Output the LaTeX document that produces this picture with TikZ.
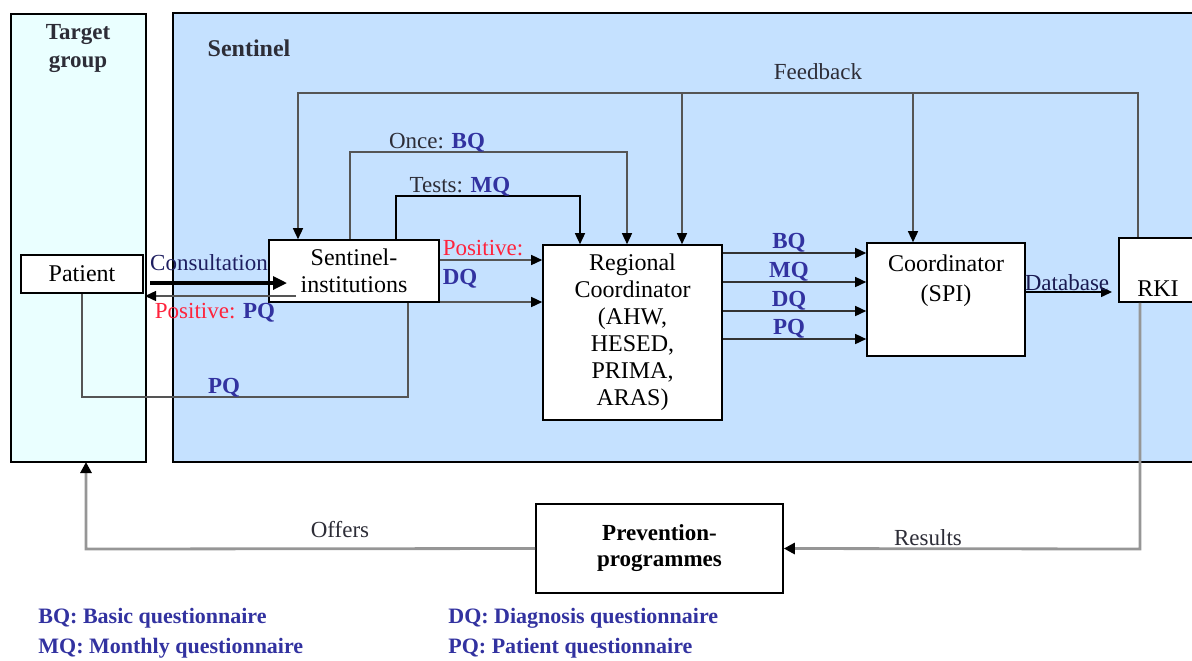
\documentclass[tikz,border=0pt]{standalone}
\usepackage{fontspec}
\setmainfont{Liberation Serif}
\usepackage{xcolor}
\usetikzlibrary{arrows.meta,positioning,calc}
\definecolor{qblue}{RGB}{50,50,160}
\definecolor{posred}{RGB}{255,35,60}
\definecolor{sentfill}{RGB}{197,225,255}
\definecolor{targfill}{RGB}{234,255,255}
\definecolor{linegray}{RGB}{85,85,85}
\definecolor{lightline}{RGB}{150,150,150}
\definecolor{labeltext}{RGB}{45,45,55}

\begin{document}
\begin{tikzpicture}[x=0.5pt,y=-0.5pt,
		box/.style={draw,fill=white,line width=0.8pt,inner sep=0pt,align=center,font=\fontsize{12}{13.5}\selectfont},
		lbl/.style={font=\fontsize{11.5}{13}\selectfont,text=labeltext,inner sep=0pt},
		qlbl/.style={font=\fontsize{11.5}{13}\selectfont\bfseries,text=qblue,inner sep=0pt},
		flow/.style={line width=0.7pt,draw=linegray,-{Triangle[length=5.5pt,width=5pt,black]}},
		legend/.style={anchor=west,font=\fontsize{11}{13}\selectfont\bfseries,text=qblue,inner sep=0pt}]
			\useasboundingbox (0,0) rectangle (1192,660);
			
			%areas
			\filldraw[fill=targfill,draw=black,line width=0.8pt] (11,14) rectangle (146,462);
			\filldraw[fill=sentfill,draw=black,line width=0.8pt] (173,13) rectangle (1210,462);
			\node[align=center,font=\fontsize{11.5}{14}\selectfont\bfseries,text=labeltext] (targettitle) at (78,49) {Target\\group};
			\node[font=\fontsize{12}{14}\selectfont\bfseries,text=labeltext] (senttitle) at (249,48) {Sentinel};
			
			%boxes
			\node[box,minimum width=61pt,minimum height=19pt] (patient) at (82,274) {Patient};
			\node[box,minimum width=85pt,minimum height=31pt] (sentinst) at (354,271) {Sentinel-\\institutions};
			\node[box,minimum width=89.5pt,minimum height=87.5pt] (regional) at (632.5,332.5) {Regional\\Coordinator\\(AHW,\\HESED,\\PRIMA,\\ARAS)};
			\node[box,minimum width=79pt,minimum height=56.5pt] (spi) at (946,299.5) {};
			\node[align=center,font=\fontsize{12}{15}\selectfont] (spitext) at (946,281) {Coordinator\\(SPI)};
			\node[box,minimum width=46pt,minimum height=32pt] (rki) at (1165,270) {};
			\node[font=\fontsize{12}{14}\selectfont] (rkitext) at (1158,289) {RKI};
			\node[box,minimum width=123.5pt,minimum height=44.5pt,font=\fontsize{11.5}{13}\selectfont\bfseries] (prevent) at (659.5,548.5) {Prevention-\\programmes};
			
			%patient <-> sentinel institutions
			\coordinate (consstart) at (150,283);
			\coordinate (consend) at (287,283);
			\draw[line width=1.6pt,-{Triangle[length=7pt,width=6.5pt]}] (consstart) -- (consend);
			\node[lbl,text=qblue!60!black] (conslbl) at (209,263) {Consultation};
			\coordinate (posstart) at (296,296);
			\coordinate (posend) at (145,296);
			\draw[flow] (posstart) -- (posend);
			\node[lbl] (poslbl) at (215,313) {\textcolor{posred}{Positive:} \textcolor{qblue}{\bfseries PQ}};
			\draw[line width=0.7pt,draw=linegray] (sentinst.south -| 408,0) -- (408,397) -- (82,397) -- (patient.south);
			\node[qlbl] (pqloop) at (224,388) {PQ};
			
			%feedback
			\coordinate (fbtop) at (1138,93);
			\draw[flow] (rki.north -| fbtop) -- (fbtop) -- (298,93) -- (sentinst.north -| 298,0);
			\draw[flow] (682,93) -- (regional.north -| 682,0);
			\draw[flow] (913,93) -- (spi.north -| 913,0);
			\node[lbl] (fblbl) at (818,72) {Feedback};
			
			%questionnaires to regional coordinator
			\draw[flow] (sentinst.north -| 350,0) -- (350,152) -- (627,152) -- (regional.north -| 627,0);
			\node[lbl] (oncelbl) at (437,143) {Once: \textcolor{qblue}{\bfseries BQ}};
			\draw[flow,draw=black] (sentinst.north -| 396,0) -- (396,196) -- (580,196) -- (regional.north -| 580,0);
			\node[lbl] (testlbl) at (460,187) {Tests: \textcolor{qblue}{\bfseries MQ}};
			\draw[flow] (sentinst.east |- 0,260) -- (regional.west |- 0,260);
			\node[lbl,text=posred] (posdq) at (483,248) {Positive:};
			\node[qlbl] (dqlbl) at (460,279) {DQ};
			\draw[flow] (sentinst.east |- 0,302) -- (regional.west |- 0,302);
			
			%regional -> coordinator
			\foreach \yy/\qq in {253/BQ,282/MQ,311/DQ,339/PQ}{
				\draw[flow,draw=black!80] (regional.east |- 0,\yy) -- (spi.west |- 0,\yy);
				\node[qlbl] (lbl\qq) at (789,\yy-10) {\qq};
			}
			
			%coordinator -> rki
			\draw[flow,draw=black] (spi.east |- 0,292) -- (1112,292);
			\node[lbl,text=qblue!50!black] (dblbl) at (1067,283) {Database};
			
			%results and offers
			\draw[line width=1.4pt,draw=lightline,-{Triangle[length=5.5pt,width=5.5pt,black]}] (rki.south -| 1140,0) -- (1140,549) -- (prevent.east);
			\node[lbl] (reslbl) at (928,538) {Results};
			\draw[line width=1.4pt,draw=lightline,-{Triangle[length=5.5pt,width=5.5pt,black]}] (prevent.west) -- (86,549) -- (86,462);
			\node[lbl] (offlbl) at (340,529) {Offers};
			
			%legend
			\node[legend] (leg1) at (38,618) {BQ: Basic questionnaire};
			\node[legend] (leg2) at (38,648) {MQ: Monthly questionnaire};
			\node[legend] (leg3) at (448,618) {DQ: Diagnosis questionnaire};
			\node[legend] (leg4) at (448,648) {PQ: Patient questionnaire};
\end{tikzpicture}
\end{document}
